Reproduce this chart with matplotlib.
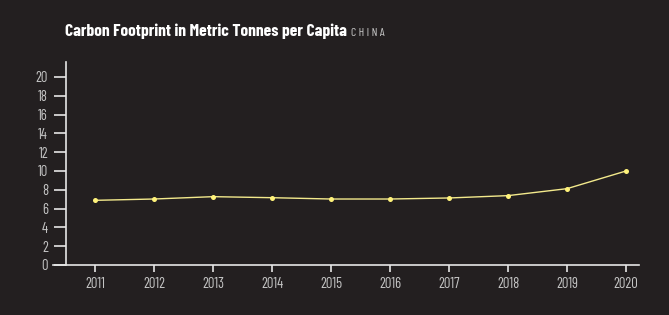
import matplotlib
matplotlib.use("Agg")
import matplotlib.pyplot as plt

# data
years = [2011, 2012, 2013, 2014, 2015, 2016, 2017, 2018, 2019, 2020]
tonnes = [6.88, 7.02, 7.27, 7.16, 7.02, 7.02, 7.13, 7.38, 8.12, 10.0]
yticks = list(range(0, 21, 2))

bg = '#231f20'
axis_col = '#e6e6e6'
label_col = '#c4c4c4'
line_col = '#f3e98c'
dot_col = '#fff27a'

plt.rcParams['font.family'] = ['Barlow Condensed', 'Roboto Condensed', 'DejaVu Sans']

fig = plt.figure(figsize=(6.69, 3.15), dpi=100, facecolor=bg)
W, H = 669, 315
# axes spans from bottom-spine start (x=53) to end (x=639), y 62..265 px
ax = fig.add_axes([53 / W, (H - 265) / H, (639 - 53) / W, (265 - 62) / H])
ax.set_facecolor(bg)

px_per_year = (626 - 95) / 9
x_left = 2011 - (95 - 53) / px_per_year
x_right = 2020 + (639 - 626) / px_per_year
x_spine = 2011 - (95 - 66) / px_per_year
ax.set_xlim(x_left, x_right)
ax.set_ylim(0, (265 - 62) / 9.4)

ax.plot(years, tonnes, color=line_col, lw=1.0, zorder=3)
ax.scatter(years, tonnes, s=13, color=dot_col, zorder=4, linewidths=0)

for s in ['top', 'right']:
    ax.spines[s].set_visible(False)
ax.spines['left'].set_position(('data', x_spine))
ax.spines['left'].set_color(axis_col)
ax.spines['bottom'].set_color(axis_col)
ax.spines['left'].set_linewidth(1.2)
ax.spines['bottom'].set_linewidth(1.2)

ax.set_xticks(years)
ax.set_xticklabels([str(y) for y in years])
ax.set_yticks(yticks)
ax.tick_params(axis='y', length=9, width=1.2, color=axis_col, labelcolor=label_col,
               labelsize=10.5, pad=4)
ax.tick_params(axis='x', length=5, width=1.2, color=axis_col, labelcolor=label_col,
               labelsize=10.5, pad=4)

title = fig.text(65 / W, 1 - 35.7 / H, 'Carbon Footprint in Metric Tonnes per Capita',
                 color='white', fontsize=12.6, fontweight='bold', va='baseline', ha='left')
fig.canvas.draw()
bb = title.get_window_extent()
fig.text(bb.x1 / W + 4 / W, 1 - 35.7 / H, 'C H I N A', color='#c8c8c8', fontsize=8.5,
         va='baseline', ha='left')

fig.savefig('out.png', dpi=100, facecolor=bg)
